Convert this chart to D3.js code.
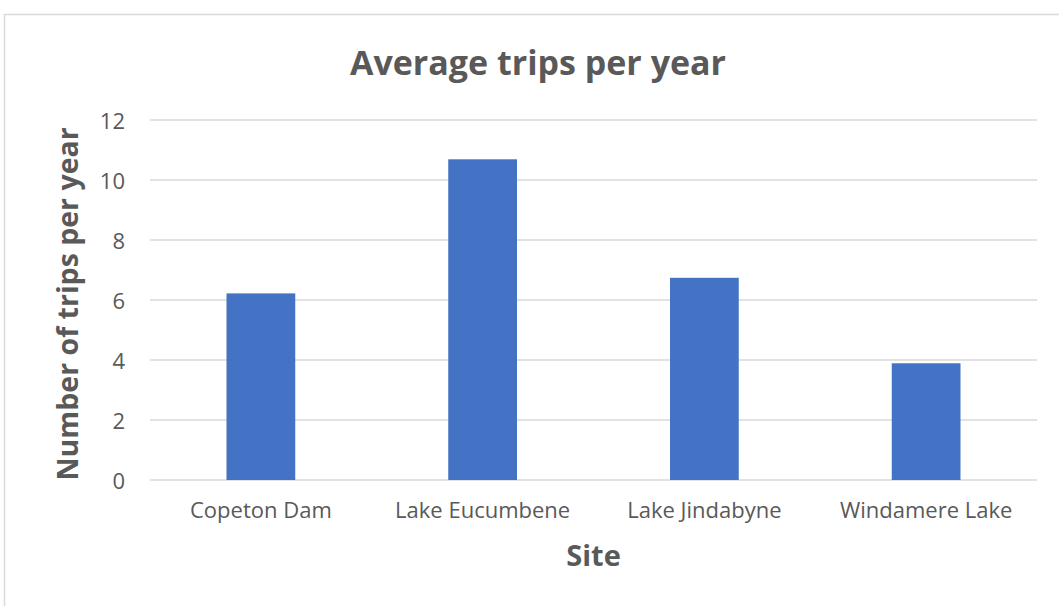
<!DOCTYPE html>
<html>
<head>
<meta charset="utf-8">
<script src="https://cdn.jsdelivr.net/npm/d3@7"></script>
<style>
  html, body { margin: 0; padding: 0; background: #fff; }
  svg { display: block; }
  text { font-family: "Open Sans", "Liberation Sans", sans-serif; fill: #595959; }
</style>
</head>
<body>
<svg id="chart" width="1059" height="606"></svg>
<script>
// Average trips per year by site
const sites = ["Copeton Dam", "Lake Eucumbene", "Lake Jindabyne", "Windamere Lake"];
const trips = [6.22, 10.69, 6.74, 3.89];
const yTicks = [0, 2, 4, 6, 8, 10, 12];

const chartTitle = "Average trips per year";
const xTitle = "Site";
const yTitle = "Number of trips per year";

const svg = d3.select("#chart");

// chart frame
svg.append("rect")
  .attr("x", 4.5).attr("y", 14.5)
  .attr("width", 1070).attr("height", 610)
  .attr("fill", "#fff")
  .attr("stroke", "#d9d9d9")
  .attr("stroke-width", 1.5);

const plot = { left: 150, right: 1037, top: 120, bottom: 480 };

const x = d3.scaleBand()
  .domain(sites)
  .range([plot.left, plot.right])
  .paddingInner(0.69)
  .paddingOuter(0.345);

const y = d3.scaleLinear()
  .domain([0, 12])
  .range([plot.bottom, plot.top]);

// horizontal gridlines
svg.append("g")
  .selectAll("line")
  .data(yTicks)
  .join("line")
  .attr("x1", plot.left).attr("x2", plot.right)
  .attr("y1", d => y(d)).attr("y2", d => y(d))
  .attr("stroke", "#d9d9d9")
  .attr("stroke-width", 1.5);

// y tick labels
const yAxis = d3.axisLeft(y).tickValues(yTicks).tickSize(0).tickPadding(0);
const gy = svg.append("g")
  .attr("transform", `translate(125,1)`)
  .call(yAxis);
gy.select(".domain").remove();
gy.selectAll("text")
  .attr("font-size", 22)
  .attr("fill", "#595959")
  .attr("font-family", "Open Sans");

// bars
svg.append("g")
  .selectAll("rect")
  .data(sites.map((s, i) => ({ site: s, value: trips[i] })))
  .join("rect")
  .attr("x", d => x(d.site))
  .attr("y", d => y(d.value))
  .attr("width", x.bandwidth())
  .attr("height", d => y(0) - y(d.value))
  .attr("fill", "#4472c4");

// category axis labels
const xAxis = d3.axisBottom(x).tickSize(0).tickPadding(0);
const gx = svg.append("g")
  .attr("transform", `translate(0,${plot.bottom + 22})`)
  .call(xAxis);
gx.select(".domain").remove();
gx.selectAll("text")
  .attr("font-size", 22)
  .attr("fill", "#595959")
  .attr("font-family", "Open Sans");

// titles
svg.append("text")
  .attr("x", 538).attr("y", 75)
  .attr("text-anchor", "middle")
  .attr("font-size", 34)
  .attr("font-weight", 700)
  .text(chartTitle);

svg.append("text")
  .attr("x", (plot.left + plot.right) / 2).attr("y", 566)
  .attr("text-anchor", "middle")
  .attr("font-size", 29)
  .attr("font-weight", 700)
  .text(xTitle);

svg.append("text")
  .attr("transform", `translate(78,304) rotate(-90)`)
  .attr("text-anchor", "middle")
  .attr("font-size", 28.5)
  .attr("font-weight", 700)
  .text(yTitle);
</script>
</body>
</html>
